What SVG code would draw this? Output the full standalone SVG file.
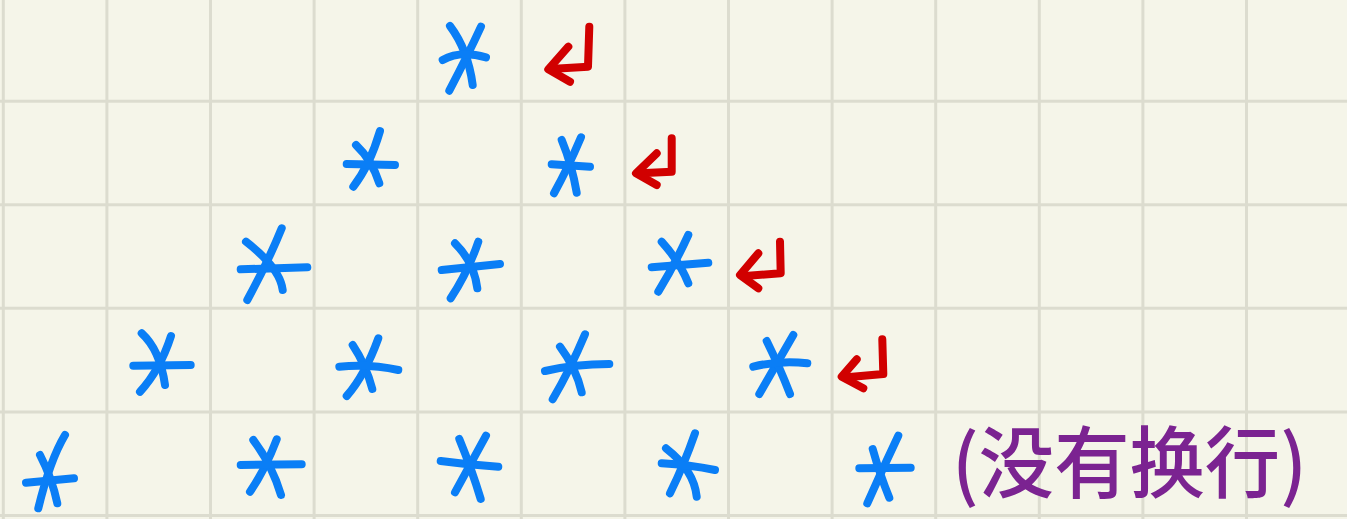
<svg xmlns="http://www.w3.org/2000/svg" width="1347" height="519" viewBox="0 0 1347 519">
<style>
.grid line{stroke:#dcdccf;stroke-width:3}
.star path{fill:none;stroke:#0a7ef6;stroke-width:8;stroke-linecap:round;stroke-linejoin:round}
.ret path{fill:none;stroke:#d10000;stroke-width:8;stroke-linecap:round;stroke-linejoin:round}
.note{font-family:"Noto Sans CJK SC","Noto Sans CJK JP",sans-serif;font-size:78px;font-weight:500;fill:#7b2391}
</style>
<rect width="1347" height="519" fill="#f5f5e9"/>
<g id="grid" class="grid">
<line x1="3.3" y1="0" x2="3.3" y2="519"/>
<line x1="106.9" y1="0" x2="106.9" y2="519"/>
<line x1="210.5" y1="0" x2="210.5" y2="519"/>
<line x1="314.1" y1="0" x2="314.1" y2="519"/>
<line x1="417.7" y1="0" x2="417.7" y2="519"/>
<line x1="521.3" y1="0" x2="521.3" y2="519"/>
<line x1="624.9" y1="0" x2="624.9" y2="519"/>
<line x1="728.5" y1="0" x2="728.5" y2="519"/>
<line x1="832.1" y1="0" x2="832.1" y2="519"/>
<line x1="935.7" y1="0" x2="935.7" y2="519"/>
<line x1="1039.3" y1="0" x2="1039.3" y2="519"/>
<line x1="1142.9" y1="0" x2="1142.9" y2="519"/>
<line x1="1246.5" y1="0" x2="1246.5" y2="519"/>
<line x1="0" y1="101.3" x2="1347" y2="101.3"/>
<line x1="0" y1="204.8" x2="1347" y2="204.8"/>
<line x1="0" y1="308.3" x2="1347" y2="308.3"/>
<line x1="0" y1="411.9" x2="1347" y2="411.9"/>
<line x1="0" y1="515.5" x2="1347" y2="515.5"/>
</g>
<g id="stars" class="star">
<g id="r1c4"><path d="M450 26 Q468 50 472.7 85"/><path d="M481 26.7 Q468 55 449.3 90.7"/><path d="M442.7 60 Q460 50 486 57.3"/></g>
<g id="r2c3"><path d="M380 131 Q370 165 353.3 186.7"/><path d="M356 145 Q372 160 379.3 183.3"/><path d="M346.7 164 L395 165"/></g>
<g id="r2c5"><path d="M561.7 140 Q572 165 576.7 192.7"/><path d="M581 137.3 Q568 168 554 193.3"/><path d="M551.7 164.3 L590 166.7"/></g>
<g id="r3c2"><path d="M281.7 228.3 Q268 262 247.3 300"/><path d="M246 241.7 Q280 268 282.7 290"/><path d="M240.7 269.3 L307.3 267.3"/></g>
<g id="r3c4"><path d="M478.3 241.7 Q468 272 450.7 298.3"/><path d="M455 243.3 Q474 262 477.3 288.3"/><path d="M441.7 270 L500 264"/></g>
<g id="r3c6"><path d="M688.3 235 Q674 266 658.3 291.7"/><path d="M661.7 241.7 Q680 262 688.3 283.3"/><path d="M651.7 267.3 L708.3 262.7"/></g>
<g id="r4c1"><path d="M141.7 333.3 Q160 350 165 385"/><path d="M171 336 Q160 370 140 391.7"/><path d="M133.3 365.7 L190.7 365"/></g>
<g id="r4c3"><path d="M378.3 338.3 Q365 375 346.7 396"/><path d="M352.7 345 Q366 365 372.3 389"/><path d="M339.3 366.7 Q370 364 398.3 370"/></g>
<g id="r4c5"><path d="M585 334.3 Q570 370 552.7 399.3"/><path d="M560 346.7 Q576 368 581.7 392.3"/><path d="M545 371 Q575 364 609.3 364"/></g>
<g id="r4c7"><path d="M793.3 335 Q776 365 759.3 394"/><path d="M766.7 341 Q780 368 790 394"/><path d="M753.3 366.7 Q780 360 807.3 363.3"/></g>
<g id="r5c0"><path d="M65 435 Q50 460 38.3 508.3"/><path d="M40 455 Q52 478 57.3 503.3"/><path d="M26 482.7 L74 478.3"/></g>
<g id="r5c2"><path d="M276.7 439.3 Q265 470 250 491.7"/><path d="M253.3 440 Q272 465 281 495"/><path d="M240.7 465 L301.7 464.3"/></g>
<g id="r5c4"><path d="M486 435.7 Q470 465 455 492.3"/><path d="M459.3 439 Q472 470 480.7 499"/><path d="M440.7 461 Q470 465 498.3 466.7"/></g>
<g id="r5c6"><path d="M695 433.3 Q684 465 670 493.3"/><path d="M666 448.3 Q694 470 696.7 496.7"/><path d="M661.7 463.3 Q690 465 715 470"/></g>
<g id="r5c8"><path d="M898.3 435.7 Q882 470 867.3 503.3"/><path d="M872.7 449 Q880 475 889.3 497.7"/><path d="M859.3 468.3 L910.7 467.7"/></g>
</g>
<g id="returns" class="ret">
<g id="ret1"><path d="M589.3 26.7 L588 66.7 L550 69"/><path d="M568.3 46.7 L548.3 69.3 L570 81.7"/></g>
<g id="ret2"><path d="M671.7 138.3 L671.7 171.7 L640 173.3"/><path d="M656.7 153.3 L636 173.3 L656.7 185"/></g>
<g id="ret3"><path d="M780 241.7 L780.7 273.3 L745 276"/><path d="M758.3 253.3 L740 275 L758.3 288.3"/></g>
<g id="ret4"><path d="M882.3 339.3 L883.3 374 L846.7 377.3"/><path d="M856.7 359.3 L841.7 376.7 L863.3 388.3"/></g>
</g>
<g id="label">
<text class="note" x="952" y="492" textLength="355" lengthAdjust="spacingAndGlyphs">(没有换行)</text>
</g>
</svg>
